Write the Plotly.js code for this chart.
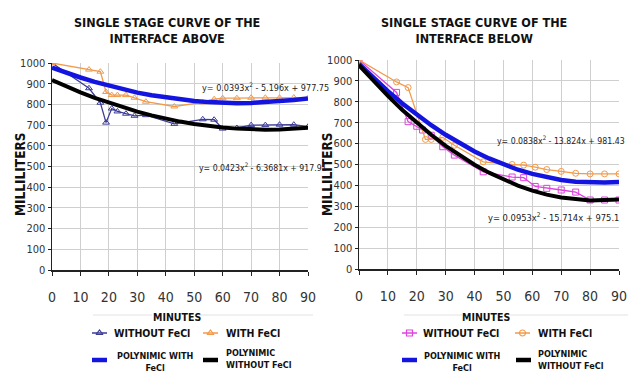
<!DOCTYPE html>
<html><head><meta charset="utf-8">
<script src="https://cdn.plot.ly/plotly-3.0.1.min.js"></script>
<style>html,body{margin:0;padding:0;background:#fff;}#chart{width:632px;height:379px;}</style>
</head><body><div id="chart"></div>
<script>
// ---------- DATA ----------
// Left chart: interface above
const minutesAbove = [0,13,17,19,21,23,26,29,33,43,53,57,60,65,70,75,80,85,90];
const withoutFeclAbove = [1000,878,808,712,780,766,755,745,748,706,728,726,683,686,700,700,702,702,692];
const withFeclAbove = [1000,968,958,860,845,845,845,832,813,790,810,825,830,830,832,832,832,833,830];
const fitMinutes = [0,5,10,15,20,25,30,35,40,45,50,55,60,65,70,75,80,85,90];
const polyWithFeclAbove = [978,953,930,909,890,873,857,844,833,824,816,811,807,806,807,810,815,821,829];
const polyWithoutFeclAbove = [918,887,858,832,808,785,765,747,731,717,705,696,688,683,679,678,679,682,687];

// Right chart: interface below
const minutesBelowWith = [0,13,17,23,25,29,33,43,53,57,61,65,70,75,80,85,90];
const withFeclBelow = [1000,895,868,620,620,630,592,513,500,497,487,476,467,458,455,455,455];
const minutesBelowWithout = [0,13,17,20,22,25,29,33,43,53,57,61,65,70,75,80,85,90];
const withoutFeclBelow = [1000,845,705,683,665,640,585,545,465,440,437,395,386,378,368,330,330,330];
const polyWithFeclBelow = [981,913,851,792,738,688,642,600,562,529,500,475,455,438,426,418,414,414,416];
const polyWithoutFeclBelow = [975,899,828,761,699,642,589,542,499,461,428,399,375,356,342,333,328,330,333];

const xTicks = [0,10,20,30,40,50,60,70,80,90];
const yTicks = [0,100,200,300,400,500,600,700,800,900,1000];

const titleAbove = "SINGLE STAGE CURVE OF THE<br>INTERFACE ABOVE";
const titleBelow = "SINGLE STAGE CURVE OF THE<br>INTERFACE BELOW";
const yTitle = "MILLILITERS";
const xTitle = "MINUTES";
const eqAbove1 = "y= 0.0393x<sup>2</sup> - 5.196x + 977.75";
const eqAbove2 = "y= 0.0423x<sup>2</sup> - 6.3681x + 917.91";
const eqBelow1 = "y= 0.0838x<sup>2</sup> - 13.824x + 981.43";
const eqBelow2 = "y= 0.0953x<sup>2</sup> - 15.714x + 975.1";

// ---------- STYLE ----------
const NAVY = "#3b3b96", ORANGE = "#f39a4a", MAGENTA = "#dd44dd", BLUE = "#1414e0", BLACK = "#000000";
const NARROW = "DejaVu Sans Condensed, Liberation Sans Narrow, sans-serif";
const W = 632, H = 379;

const traces = [
  {x: minutesAbove, y: withoutFeclAbove, xaxis:'x', yaxis:'y', mode:'lines+markers',
   line:{color:NAVY, width:1.3}, marker:{symbol:'triangle-up-open', size:6, color:NAVY, line:{width:1}}},
  {x: minutesAbove, y: withFeclAbove, xaxis:'x', yaxis:'y', mode:'lines+markers',
   line:{color:ORANGE, width:1.3}, marker:{symbol:'triangle-up-open', size:6, color:ORANGE, line:{width:1}}},
  {x: fitMinutes, y: polyWithFeclAbove, xaxis:'x', yaxis:'y', mode:'lines', line:{color:BLUE, width:4.5}},
  {x: fitMinutes, y: polyWithoutFeclAbove, xaxis:'x', yaxis:'y', mode:'lines', line:{color:BLACK, width:4}},

  {x: minutesBelowWithout, y: withoutFeclBelow, xaxis:'x2', yaxis:'y2', mode:'lines+markers',
   line:{color:MAGENTA, width:1.3}, marker:{symbol:'square-open', size:6, color:MAGENTA, line:{width:1}}},
  {x: minutesBelowWith, y: withFeclBelow, xaxis:'x2', yaxis:'y2', mode:'lines+markers',
   line:{color:ORANGE, width:1.3}, marker:{symbol:'circle-open', size:6, color:ORANGE, line:{width:1}}},
  {x: fitMinutes, y: polyWithFeclBelow, xaxis:'x2', yaxis:'y2', mode:'lines', line:{color:BLUE, width:4.5}},
  {x: fitMinutes, y: polyWithoutFeclBelow, xaxis:'x2', yaxis:'y2', mode:'lines', line:{color:BLACK, width:4}}
];

// legend glyphs on an overlay pixel axis
function glyph(x0, y, color, width, symbol){
  traces.push({x:[x0, x0+15], y:[y,y], xaxis:'x3', yaxis:'y3', mode:'lines', line:{color:color, width:width}, hoverinfo:'skip'});
  if (symbol) traces.push({x:[x0+7.5], y:[y], xaxis:'x3', yaxis:'y3', mode:'markers',
    marker:{symbol:symbol, size:6, color:color, line:{width:1.2}}, hoverinfo:'skip'});
}
glyph(92, 333, NAVY, 1.5, 'triangle-up-open');
glyph(203, 333, ORANGE, 1.5, 'triangle-up-open');
glyph(92, 360, BLUE, 4.5, null);
glyph(203, 360, BLACK, 4.5, null);
glyph(402, 333, MAGENTA, 1.5, 'square-open');
glyph(515, 333, ORANGE, 1.5, 'circle-open');
glyph(402, 360, BLUE, 4.5, null);
glyph(516, 360, BLACK, 4.5, null);

function px(x){return x/W;} function py(y){return 1 - y/H;}

function xAxis(d){
  return {domain:d, range:[0,90], tickvals:xTicks, showgrid:true, gridcolor:'#cfcfcf', gridwidth:1,
    zeroline:false, showline:true, linecolor:'#222', linewidth:2, ticks:'outside', ticklen:4, tickcolor:'#222',
    ticklabelstandoff:9, tickfont:{family:NARROW, size:14, color:'#333'}, fixedrange:true};
}
function yAxis(d, anchor){
  return {domain:d, range:[0,1000], tickvals:yTicks, showgrid:true, gridcolor:'#cfcfcf', gridwidth:1,
    zeroline:false, showline:true, linecolor:'#222', linewidth:1.5, ticks:'outside', ticklen:3, tickcolor:'#222',
    tickfont:{family:NARROW, size:11, color:'#333'}, anchor:anchor, fixedrange:true};
}

const ann = [];
function txt(x, y, text, size, opts){
  ann.push(Object.assign({xref:'paper', yref:'paper', x:px(x), y:py(y), text:text, showarrow:false,
    xanchor:'center', yanchor:'middle', font:{family:NARROW, size:size, color:'#111'}}, opts||{}));
}
txt(167, 30, "<b>"+titleAbove+"</b>", 12.5);
txt(474, 30, "<b>"+titleBelow+"</b>", 12.5);
txt(20, 174, "<b>"+yTitle+"</b>", 13.5, {textangle:-90});
txt(327, 174, "<b>"+yTitle+"</b>", 13.5, {textangle:-90});
txt(177, 317, "<b>"+xTitle+"</b>", 10.5);
txt(486, 317, "<b>"+xTitle+"</b>", 10.5);
// legend texts
txt(112, 333, "<b>WITHOUT FeCl</b>", 10.5, {xanchor:'left'});
txt(224, 333, "<b>WITH FeCl</b>", 10.5, {xanchor:'left'});
txt(155, 362, "<b>POLYNIMIC WITH<br>FeCl</b>", 9);
txt(224, 359, "<b>POLYNIMIC<br>WITHOUT FeCl</b>", 9, {xanchor:'left', align:'left'});
txt(421, 333, "<b>WITHOUT FeCl</b>", 10.5, {xanchor:'left'});
txt(536, 333, "<b>WITH FeCl</b>", 10.5, {xanchor:'left'});
txt(462, 362, "<b>POLYNIMIC WITH<br>FeCl</b>", 9);
txt(536, 360, "<b>POLYNIMIC<br>WITHOUT FeCl</b>", 9, {xanchor:'left', align:'left'});
// trendline equations (axis coordinates)
function eq(xr, yr, x, y, text, size){
  ann.push({xref:xr, yref:yr, x:x, y:y, text:text, showarrow:false, xanchor:'left', yanchor:'middle',
    font:{family:NARROW, size:size, color:'#222'}});
}
eq('x','y', 52, 885, eqAbove1, 9);
eq('x','y', 51, 499, eqAbove2, 8.7);
eq('x2','y2', 47, 617, eqBelow1, 8.7);
eq('x2','y2', 44, 250, eqBelow2, 9.3);

const shapes = [];
function hline(x0, x1, y){
  shapes.push({type:'line', xref:'paper', yref:'paper', x0:px(x0), x1:px(x1), y0:py(y), y1:py(y),
    line:{color:'#e2e2e2', width:1}});
}
hline(93,152,315); hline(200,313,315);
hline(404,462,315); hline(510,628,315);

const layout = {
  width:W, height:H, margin:{l:0,r:0,t:0,b:0}, paper_bgcolor:'#fff', plot_bgcolor:'rgba(0,0,0,0)',
  showlegend:false,
  xaxis: Object.assign(xAxis([px(52), px(308)]), {anchor:'y'}),
  yaxis: yAxis([py(270), py(63)], 'x'),
  xaxis2: Object.assign(xAxis([px(359), px(619)]), {anchor:'y2'}),
  yaxis2: yAxis([py(269), py(60)], 'x2'),
  xaxis3: {domain:[0,1], range:[0,W], visible:false, anchor:'y3', fixedrange:true},
  yaxis3: {domain:[0,1], range:[H,0], visible:false, anchor:'x3', fixedrange:true},
  annotations: ann, shapes: shapes
};
Plotly.newPlot('chart', traces, layout, {displayModeBar:false, staticPlot:true});
</script></body></html>
